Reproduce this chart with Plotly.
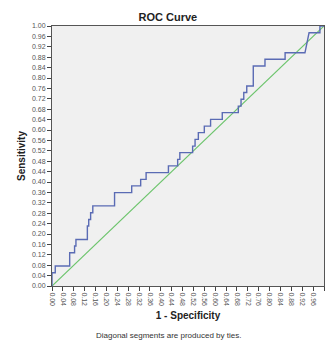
import plotly.graph_objects as go

# ROC curve vertices (1 - Specificity, Sensitivity)
roc_fpr = [0, 0, 0.012, 0.012, 0.065, 0.065, 0.083, 0.083, 0.088, 0.088,
           0.13, 0.13, 0.135, 0.135, 0.142, 0.142, 0.15, 0.15, 0.23, 0.23,
           0.293, 0.293, 0.326, 0.326, 0.346, 0.346, 0.428, 0.428, 0.462, 0.462,
           0.47, 0.47, 0.517, 0.517, 0.526, 0.526, 0.538, 0.538, 0.56, 0.56,
           0.583, 0.583, 0.626, 0.626, 0.685, 0.685, 0.695, 0.695, 0.705, 0.705,
           0.716, 0.716, 0.74, 0.74, 0.783, 0.783, 0.857, 0.857, 0.93, 0.945,
           0.985, 0.985, 1.0]
roc_tpr = [0, 0.051, 0.051, 0.077, 0.077, 0.128, 0.128, 0.154, 0.154, 0.179,
           0.179, 0.231, 0.231, 0.256, 0.256, 0.282, 0.282, 0.308, 0.308, 0.359,
           0.359, 0.385, 0.385, 0.41, 0.41, 0.436, 0.436, 0.462, 0.462, 0.487,
           0.487, 0.513, 0.513, 0.538, 0.538, 0.564, 0.564, 0.59, 0.59, 0.615,
           0.615, 0.641, 0.641, 0.667, 0.667, 0.692, 0.692, 0.718, 0.718, 0.744,
           0.744, 0.769, 0.769, 0.846, 0.846, 0.872, 0.872, 0.897, 0.897, 0.974,
           0.974, 1.0, 1.0]

ref_x = [0, 1]
ref_y = [0, 1]

tick_vals = [round(i * 0.04, 2) for i in range(26)]
tick_text = ["%.2f" % v for v in tick_vals]

fig = go.Figure()
fig.add_trace(go.Scatter(x=ref_x, y=ref_y, mode="lines",
                         line=dict(color="#6cc46c", width=1.2), showlegend=False))
fig.add_trace(go.Scatter(x=roc_fpr, y=roc_tpr, mode="lines",
                         line=dict(color="#5a6bb4", width=1.4), showlegend=False))

axis_font = dict(family="Liberation Sans, Arial", size=7, color="#555555")
fig.update_layout(
    width=326, height=345,
    margin=dict(l=52, r=2, t=26, b=59, autoexpand=False),
    paper_bgcolor="white", plot_bgcolor="#f0f0f0",
    title=dict(text="<b>ROC Curve</b>", x=0.515, xanchor="center", y=0.951, yanchor="middle",
               font=dict(family="Liberation Sans, Arial", size=11, color="#222222")),
    xaxis=dict(range=[0, 1], tickmode="array", tickvals=tick_vals, ticktext=tick_text,
               tickangle=90, tickfont=axis_font, showgrid=False, zeroline=False,
               showline=True, linecolor="#555555", linewidth=1, mirror=True,
               ticks="outside", ticklen=4, tickcolor="#444444", automargin=False,
               title=dict(text="<b>1 - Specificity</b>", standoff=6,
                          font=dict(family="Liberation Sans, Arial", size=10, color="#222222"))),
    yaxis=dict(range=[0, 1], tickmode="array", tickvals=tick_vals, ticktext=tick_text,
               tickfont=axis_font, showgrid=False, zeroline=False,
               showline=True, linecolor="#555555", linewidth=1, mirror=True,
               ticks="outside", ticklen=4, tickcolor="#444444", automargin=False,
               title=dict(text="<b>Sensitivity</b>", standoff=4,
                          font=dict(family="Liberation Sans, Arial", size=10, color="#222222"))),
    annotations=[dict(text="Diagonal segments are produced by ties.", xref="paper", yref="paper",
                      x=0.43, y=-0.192, xanchor="center", yanchor="middle", showarrow=False,
                      font=dict(family="Liberation Sans, Arial", size=8, color="#333333"))],
)
fig.write_html("out.html", config={"displayModeBar": False},
               post_script="document.body.style.margin='0';document.body.style.overflow='hidden';")
